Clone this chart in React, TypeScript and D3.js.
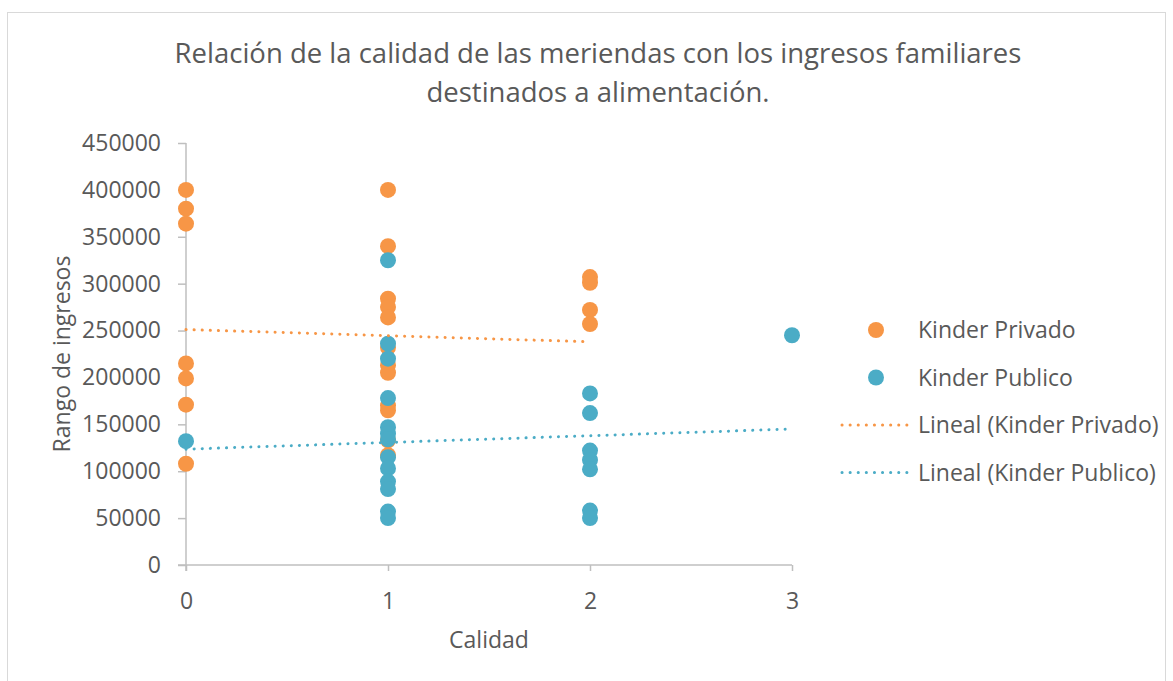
import React, { useRef, useEffect } from 'react';
import * as d3 from 'd3';

// Calidad (x) and income (y) for each group
const privadoX = [0, 0, 0, 0, 0, 0, 0, 1, 1, 1, 1, 1, 1, 1, 1, 1, 1, 1, 1, 2, 2, 2, 2];
const privadoY = [400000, 380000, 364000, 215000, 199000, 171000, 108000,
  400000, 340000, 284000, 275000, 264000, 232000, 213000, 205000, 170000, 165000, 133000, 117000,
  307000, 301000, 272000, 257000];

const publicoX = [0, 1, 1, 1, 1, 1, 1, 1, 1, 1, 1, 1, 1, 1, 2, 2, 2, 2, 2, 2, 2, 3];
const publicoY = [132000,
  325000, 236000, 220000, 178000, 147000, 140000, 134000, 115000, 103000, 89000, 81000, 57000, 50000,
  183000, 162000, 122000, 112000, 102000, 58000, 50000,
  245000];

// trend line end points (Lineal)
const trendPrivadoX = [0, 2];
const trendPrivadoY = [251000, 238000];
const trendPublicoX = [0, 3];
const trendPublicoY = [123500, 145000];

const yTicks = [0, 50000, 100000, 150000, 200000, 250000, 300000, 350000, 400000, 450000];
const xTicks = [0, 1, 2, 3];

const titleLines = ['Relación de la calidad de las meriendas con los ingresos familiares', 'destinados a alimentación.'];
const legendNames = ['Kinder Privado', 'Kinder Publico', 'Lineal (Kinder Privado)', 'Lineal (Kinder Publico)'];

const ORANGE = '#F79646';
const BLUE = '#4BACC6';
const TEXT = '#595959';
const AXIS = '#bfbfbf';
const FONT = '"Open Sans", "Noto Sans", sans-serif';
const FS = 23;

const App = () => {
  const chartRef = useRef<HTMLDivElement>(null);

  useEffect(() => {
    d3.select(chartRef.current).selectAll('*').remove();

    const width = 1173;
    const height = 681;

    const svg = d3.select(chartRef.current)
      .append('svg')
      .attr('width', width)
      .attr('height', height)
      .style('display', 'block')
      .style('font-family', FONT);

    svg.append('rect')
      .attr('width', width).attr('height', height).attr('fill', '#fff');

    // outer chart frame
    svg.append('rect')
      .attr('x', 7.5).attr('y', 12.5)
      .attr('width', 1158).attr('height', 700)
      .attr('fill', 'none').attr('stroke', '#d9d9d9');

    const x = d3.scaleLinear().domain([0, 3]).range([186, 792]);
    const y = d3.scaleLinear().domain([0, 450000]).range([565, 143]);

    // title
    svg.append('g').selectAll('text')
      .data(titleLines)
      .enter().append('text')
      .attr('x', 598)
      .attr('y', (d, i) => 63 + i * 39)
      .attr('text-anchor', 'middle')
      .attr('fill', TEXT)
      .attr('font-size', 27.5)
      .text(d => d);

    // y axis
    const yAxis = svg.append('g')
      .attr('transform', `translate(${x(0)},0)`)
      .call(d3.axisLeft(y).tickValues(yTicks).tickSize(8).tickPadding(17).tickFormat(d3.format('d')));
    yAxis.select('.domain').remove();
    yAxis.selectAll('line').attr('stroke', AXIS).attr('stroke-width', 1.5);
    yAxis.selectAll('text').attr('fill', TEXT).attr('font-size', FS).attr('font-family', FONT);
    svg.append('line')
      .attr('x1', x(0)).attr('x2', x(0))
      .attr('y1', y(450000)).attr('y2', y(0) + 6)
      .attr('stroke', AXIS).attr('stroke-width', 1.5);

    // x axis
    const xAxis = svg.append('g')
      .attr('transform', `translate(0,${y(0)})`)
      .call(d3.axisBottom(x).tickValues(xTicks).tickSize(6).tickPadding(22).tickFormat(d3.format('d')));
    xAxis.select('.domain').remove();
    xAxis.selectAll('line').attr('stroke', AXIS).attr('stroke-width', 1.5);
    xAxis.selectAll('text').attr('fill', TEXT).attr('font-size', FS).attr('font-family', FONT);
    svg.append('line')
      .attr('x1', x(0) - 8).attr('x2', x(3))
      .attr('y1', y(0)).attr('y2', y(0))
      .attr('stroke', AXIS).attr('stroke-width', 1.5);

    // axis titles
    svg.append('text')
      .attr('transform', `translate(70,${(y(0) + y(450000)) / 2}) rotate(-90)`)
      .attr('text-anchor', 'middle')
      .attr('fill', TEXT).attr('font-size', FS)
      .text('Rango de ingresos');
    svg.append('text')
      .attr('x', 489).attr('y', 648)
      .attr('text-anchor', 'middle')
      .attr('fill', TEXT).attr('font-size', FS)
      .text('Calidad');

    // points
    const drawPoints = (xs: number[], ys: number[], color: string) => {
      svg.append('g').selectAll('circle')
        .data(xs.map((v, i) => ({ x: v, y: ys[i] })))
        .enter().append('circle')
        .attr('cx', d => x(d.x))
        .attr('cy', d => y(d.y))
        .attr('r', 8)
        .attr('fill', color);
    };
    drawPoints(privadoX, privadoY, ORANGE);
    drawPoints(publicoX, publicoY, BLUE);

    // trend lines
    const line = d3.line<{ x: number; y: number }>()
      .x(d => x(d.x))
      .y(d => y(d.y));
    const drawTrend = (xs: number[], ys: number[], color: string) => {
      svg.append('path')
        .datum(xs.map((v, i) => ({ x: v, y: ys[i] })))
        .attr('fill', 'none')
        .attr('stroke', color)
        .attr('stroke-width', 3)
        .attr('stroke-linecap', 'round')
        .attr('stroke-dasharray', '0.1 8')
        .attr('d', line);
    };
    drawTrend(trendPrivadoX, trendPrivadoY, ORANGE);
    drawTrend(trendPublicoX, trendPublicoY, BLUE);

    // legend
    const legend = svg.append('g');
    const legendColors = [ORANGE, BLUE, ORANGE, BLUE];
    legendNames.forEach((name, i) => {
      const ly = 330 + i * 47.5;
      if (i < 2) {
        legend.append('circle')
          .attr('cx', 876).attr('cy', ly).attr('r', 8)
          .attr('fill', legendColors[i]);
      } else {
        legend.append('line')
          .attr('x1', 842).attr('x2', 910)
          .attr('y1', ly).attr('y2', ly)
          .attr('stroke', legendColors[i])
          .attr('stroke-width', 3)
          .attr('stroke-linecap', 'round')
          .attr('stroke-dasharray', '0.1 8');
      }
      legend.append('text')
        .attr('x', 918)
        .attr('y', ly)
        .attr('dy', '0.35em')
        .attr('fill', TEXT).attr('font-size', FS)
        .text(name);
    });
  }, []);

  return <div ref={chartRef} style={{ position: 'absolute', left: 0, top: 0 }} />;
};

export default App;
